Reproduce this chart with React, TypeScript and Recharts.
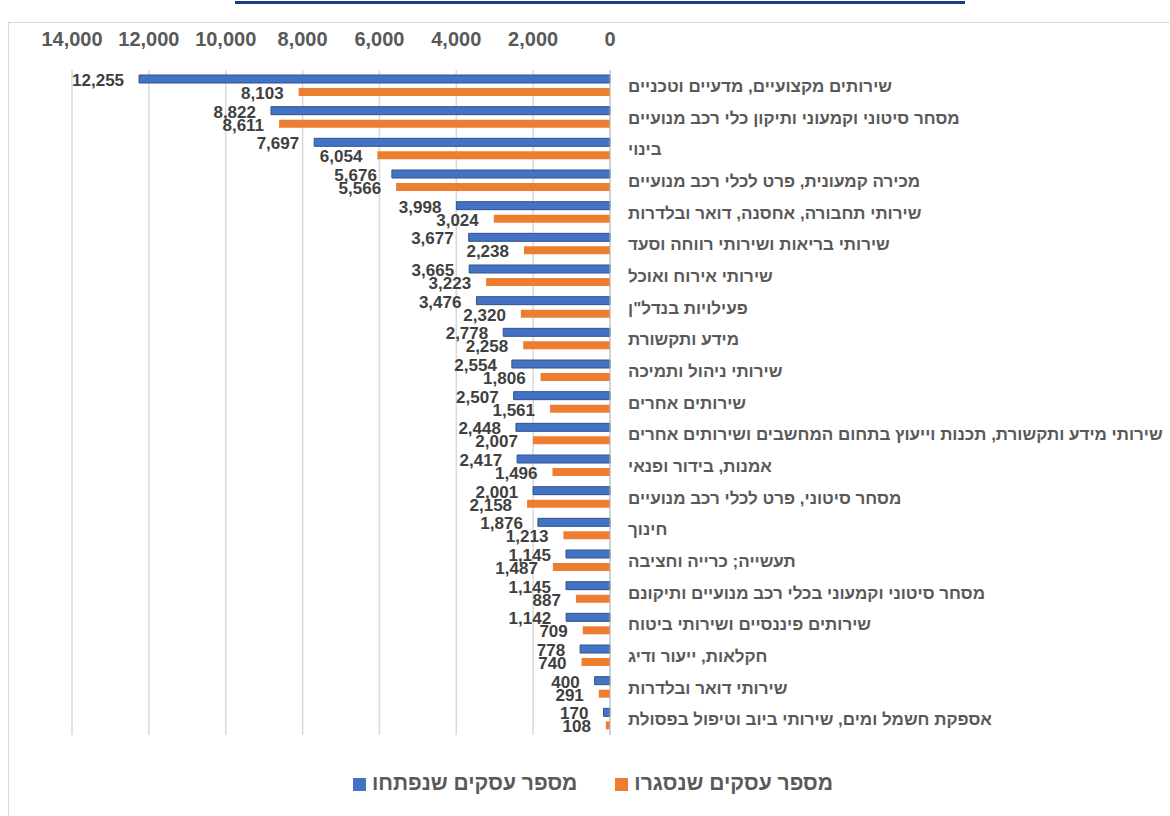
import React from "react";
import { BarChart, Bar, XAxis, YAxis, CartesianGrid, Legend, LabelList } from "recharts";

const sectors = [
  "שירותים מקצועיים, מדעיים וטכניים",
  "מסחר סיטוני וקמעוני ותיקון כלי רכב מנועיים",
  "בינוי",
  "מכירה קמעונית, פרט לכלי רכב מנועיים",
  "שירותי תחבורה, אחסנה, דואר ובלדרות",
  "שירותי בריאות ושירותי רווחה וסעד",
  "שירותי אירוח ואוכל",
  'פעילויות בנדל"ן',
  "מידע ותקשורת",
  "שירותי ניהול ותמיכה",
  "שירותים אחרים",
  "שירותי מידע ותקשורת, תכנות וייעוץ בתחום המחשבים ושירותים אחרים",
  "אמנות, בידור ופנאי",
  "מסחר סיטוני, פרט לכלי רכב מנועיים",
  "חינוך",
  "תעשייה; כרייה וחציבה",
  "מסחר סיטוני וקמעוני בכלי רכב מנועיים ותיקונם",
  "שירותים פיננסיים ושירותי ביטוח",
  "חקלאות, ייעור ודיג",
  "שירותי דואר ובלדרות",
  "אספקת חשמל ומים, שירותי ביוב וטיפול בפסולת",
];

const opened = [12255, 8822, 7697, 5676, 3998, 3677, 3665, 3476, 2778, 2554, 2507, 2448, 2417, 2001, 1876, 1145, 1145, 1142, 778, 400, 170];
const closed = [8103, 8611, 6054, 5566, 3024, 2238, 3223, 2320, 2258, 1806, 1561, 2007, 1496, 2158, 1213, 1487, 887, 709, 740, 291, 108];

const xTicks = [0, 2000, 4000, 6000, 8000, 10000, 12000, 14000];

const data = sectors.map((name, i) => ({ name, opened: opened[i], closed: closed[i] }));

const FONT = "'Liberation Sans Narrow', 'Liberation Sans', Arial, sans-serif";
const fmt = (v: number) => v.toLocaleString("en-US");

function SectorTick({ x, y, payload }: any) {
  return (
    <text x={x + 10} y={y} dy={6} textAnchor="start" fill="#595959" fontSize={17} fontWeight="bold" fontFamily={FONT}>
      {payload.value}
    </text>
  );
}

function ValueLabel({ x, y, width, height, value }: any) {
  const left = Math.min(x, x + width);
  return (
    <text x={left - 15} y={y + height / 2} dy={7} textAnchor="end" fill="#404040" fontSize={17} fontWeight="bold" fontFamily={FONT}>
      {fmt(value)}
    </text>
  );
}

const order: Record<string, number> = { opened: 0, closed: 1 };

export default function App() {
  return (
    <div style={{ position: "absolute", left: 0, top: 0, width: 1170, height: 816, background: "#fff", overflow: "hidden", fontFamily: FONT }}>
      <div style={{ position: "absolute", left: 235, top: 1, width: 730, height: 3, background: "#1F3B86" }} />
      <div style={{ position: "absolute", left: 8, top: 22, width: 1170, height: 820, border: "1px solid #D9D9D9" }} />
      <div style={{ position: "absolute", left: 0, top: 0 }}>
        <BarChart
          width={1170}
          height={816}
          data={data}
          layout="vertical"
          margin={{ top: 28, right: 0, bottom: 57, left: 72 }}
          barCategoryGap="15%"
          barGap={5}
          barSize={8}
        >
          <CartesianGrid horizontal={false} stroke="#D9D9D9" strokeWidth={1.5} />
          <XAxis
            type="number"
            orientation="top"
            reversed
            domain={[0, 14000]}
            ticks={xTicks}
            tickFormatter={fmt}
            axisLine={false}
            tickLine={false}
            height={42}
            tickMargin={18}
            tick={{ fill: "#595959", fontSize: 20, fontWeight: "bold", fontFamily: FONT }}
            interval={0}
          />
          <YAxis
            type="category"
            dataKey="name"
            orientation="right"
            width={560}
            axisLine={{ stroke: "#BFBFBF" }}
            tickLine={false}
            tick={<SectorTick />}
            interval={0}
          />
          <Legend
            verticalAlign="bottom"
            iconType="square"
            iconSize={13}
            itemSorter={(item: any) => order[item.dataKey as string] ?? 0}
            wrapperStyle={{ top: 771, left: 13, width: 1170, fontSize: 21, fontWeight: "bold", fontFamily: FONT }}
            formatter={(v: string, _e: any, i: number) => (
              <span style={{ color: "#595959", marginLeft: 2, marginRight: i === 0 ? 28 : 0 }}>{v}</span>
            )}
          />
          <Bar dataKey="opened" name="מספר עסקים שנפתחו" fill="#4472C4" stroke="#2F528F" strokeWidth={1} isAnimationActive={false}>
            <LabelList dataKey="opened" content={<ValueLabel />} />
          </Bar>
          <Bar dataKey="closed" name="מספר עסקים שנסגרו" fill="#ED7D31" isAnimationActive={false}>
            <LabelList dataKey="closed" content={<ValueLabel />} />
          </Bar>
        </BarChart>
      </div>
    </div>
  );
}
